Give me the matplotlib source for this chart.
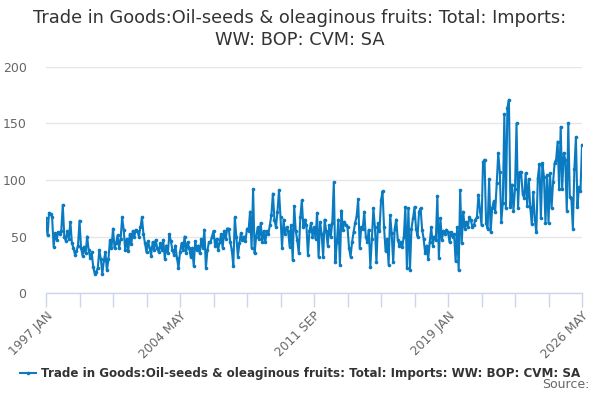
import numpy as np
import pandas as pd
import matplotlib
matplotlib.use('Agg')
import matplotlib.pyplot as plt
from matplotlib.lines import Line2D

plt.rcParams['font.family'] = ['DejaVu Sans']

# monthly values, 1997 JAN .. 2026 MAY
values_1997_2006 = [
    66, 51, 71, 70, 67, 41, 53, 47, 54, 52, 55, 78,
    50, 46, 55, 48, 63, 44, 40, 34, 37, 42, 64, 40,
    33, 41, 35, 50, 38, 31, 36, 23, 17, 19, 22, 38,
    30, 17, 29, 36, 20, 30, 47, 40, 57, 40, 44, 51,
    40, 48, 67, 56, 38, 48, 37, 52, 43, 55, 50, 56,
    55, 50, 58, 67, 52, 44, 36, 46, 40, 33, 45, 38,
    47, 40, 36, 44, 38, 47, 30, 42, 35, 52, 46, 38,
    34, 42, 31, 22, 36, 44, 38, 50, 35, 45, 40, 32,
    40, 24, 46, 38, 42, 35, 48, 40, 56, 22, 38, 45,
    45, 50, 55, 42, 48, 38, 45, 52, 40, 55, 48, 57,
]
values_2007_2016 = [
    57, 45, 38, 24, 67, 50, 32, 44, 53, 47, 50, 46,
    57, 55, 72, 40, 92, 35, 50, 58, 48, 62, 45, 55,
    45, 55, 52, 60, 69, 88, 65, 58, 72, 91, 67, 40,
    65, 52, 58, 55, 41, 60, 29, 77, 55, 47, 35, 67,
    82, 58, 65, 60, 34, 55, 62, 50, 58, 48, 71, 32,
    63, 52, 32, 65, 55, 42, 60, 50, 62, 98, 27, 45,
    65, 25, 73, 56, 63, 60, 58, 40, 32, 45, 54, 62,
    68, 83, 40, 58, 57, 72, 50, 45, 56, 23, 48, 75,
    58, 27, 62, 55, 82, 90, 58, 37, 48, 25, 69, 53,
    27, 57, 65, 47, 42, 45, 41, 50, 76, 22, 75, 20,
]
values_2017_2026 = [
    57, 66, 76, 57, 50, 72, 75, 56, 48, 35, 42, 30,
    45, 58, 42, 50, 47, 86, 31, 66, 47, 55, 52, 56,
    54, 45, 54, 50, 52, 28, 58, 20, 91, 44, 72, 57,
    63, 58, 67, 65, 58, 60, 65, 67, 87, 73, 60, 116,
    118, 62, 57, 101, 54, 75, 81, 72, 97, 124, 107, 63,
    80, 158, 75, 164, 171, 76, 96, 73, 92, 150, 75, 107,
    107, 88, 84, 106, 77, 101, 76, 61, 89, 65, 54, 102,
    114, 66, 115, 103, 62, 104, 62, 106, 75, 98, 115, 118,
    134, 92, 147, 92, 124, 118, 73, 150, 85, 84, 57, 110,
    138, 76, 94, 90, 131,
]

values = values_1997_2006 + values_2007_2016 + values_2017_2026
months = pd.date_range('1997-01-01', periods=len(values), freq='MS')
labels = [d.strftime('%Y %b').upper() for d in months]

series_name = 'Trade in Goods:Oil-seeds & oleaginous fruits: Total: Imports: WW: BOP: CVM: SA'
title = 'Trade in Goods:Oil-seeds & oleaginous fruits: Total: Imports:\nWW: BOP: CVM: SA'

line_color = '#0a7bc1'
grid_color = '#e6e6e6'
axis_color = '#ccd6eb'
text_color = '#333333'
tick_color = '#666666'

fig = plt.figure(figsize=(6, 4), dpi=100)
ax = fig.add_axes([0.0767, 0.2675, 0.8933, 0.565])

x = np.arange(len(values))
ax.plot(x, values, color=line_color, linewidth=1.5, marker='o', markersize=2.6,
        markeredgewidth=0, zorder=3)

ax.set_xlim(0, len(values) - 1)
ax.set_ylim(0, 200)
ax.set_yticks([0, 50, 100, 150, 200])
ax.yaxis.grid(True, color=grid_color, linewidth=1)
ax.set_axisbelow(True)

minor = np.arange(0, len(values), 22)
major = np.arange(0, len(values), 88)
ax.set_xticks(minor)
ax.set_xticklabels([labels[i] if i in major else '' for i in minor],
                   rotation=45, ha='right', va='top', rotation_mode='anchor')
ax.tick_params(axis='x', length=10, width=1, color=axis_color, labelcolor=tick_color,
               labelsize=8.8, pad=2)
ax.tick_params(axis='y', length=0, labelcolor=tick_color, labelsize=9, pad=14)

for s in ['top', 'right', 'left']:
    ax.spines[s].set_visible(False)
ax.spines['bottom'].set_color(axis_color)
ax.spines['bottom'].set_linewidth(1)

fig.text(0.5, 0.978, title, ha='center', va='top', fontsize=12.8, color=text_color,
         linespacing=1.3)

handle = Line2D([0], [0], color=line_color, linewidth=1.5, marker='o', markersize=2.6,
                markeredgewidth=0)
fig.legend([handle], [series_name], loc='center', bbox_to_anchor=(0.5, 0.067),
           frameon=False, handlelength=1.3, handletextpad=0.4,
           prop={'weight': 'bold', 'size': 8.6}, labelcolor=text_color)

fig.text(0.983, 0.022, 'Source:', ha='right', va='bottom', fontsize=9, color=tick_color)

fig.savefig('out.png', dpi=100)
